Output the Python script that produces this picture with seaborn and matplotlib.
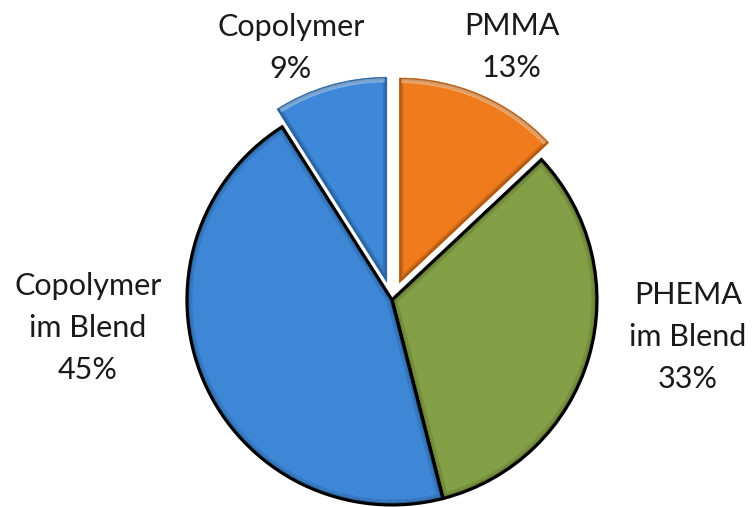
import matplotlib
matplotlib.use("Agg")
import matplotlib.pyplot as plt
from matplotlib.patches import Wedge, Arc
import seaborn as sns

# Share of each polymer fraction
categories = ["PMMA", "PHEMA\nim Blend", "Copolymer\nim Blend", "Copolymer"]
shares = [13, 33, 45, 9]
colors = ["#EF7B1C", "#83A047", "#3E87D6", "#3D88D9"]
explode = [0.09, 0.0, 0.0, 0.09]

sns.set_theme(style="white")
plt.rcParams["font.family"] = ["Lato", "DejaVu Sans"]

fig = plt.figure(figsize=(7.53, 5.07), dpi=100)
ax = fig.add_axes([0, 0, 1, 1])

wedges, _ = ax.pie(
    shares,
    colors=colors,
    explode=explode,
    startangle=90,
    counterclock=False,
    radius=1.0,
    center=(0, 0),
)

px = 1 / 205.0  # one pixel in data units


def inner_edge(w, color, lw, alpha):
    """Soft stroke along the wedge outline, kept inside the wedge."""
    b = Wedge(w.center, w.r, w.theta1, w.theta2,
              facecolor="none", edgecolor=color, linewidth=lw, alpha=alpha,
              zorder=w.get_zorder() + 0.1)
    ax.add_patch(b)
    b.set_clip_path(w)


def rim_light(w, alpha):
    """Light band just inside the outer arc of a wedge."""
    r = w.r - 3 * px
    a = Arc(w.center, 2 * r, 2 * r, theta1=w.theta1 + 0.6, theta2=w.theta2 - 0.6,
            color="white", linewidth=3, alpha=alpha, zorder=w.get_zorder() + 0.2)
    ax.add_patch(a)
    a.set_clip_path(w)


for w, ex, c in zip(wedges, explode, colors):
    if ex > 0:
        w.set_edgecolor(c)
        w.set_linewidth(0.5)
        inner_edge(w, "black", 6, 0.12)
        inner_edge(w, "black", 3, 0.18)
        rim_light(w, 0.35)
    else:
        w.set_edgecolor("black")
        w.set_linewidth(2.3)
        w.set_zorder(1.5)
        inner_edge(w, "black", 8, 0.10)
        inner_edge(w, "black", 4, 0.15)

# label anchors (data units, pie radius = 1)
label_pos = [(0.585, 1.234), (1.444, -0.180), (-1.483, -0.137), (-0.493, 1.229)]
for name, val, (lx, ly) in zip(categories, shares, label_pos):
    ax.text(lx, ly, f"{name}\n{val}%", ha="center", va="center",
            fontsize=22, color="#1a1a1a", linespacing=1.62)

ax.set_xlim(-1.912, 1.761)
ax.set_ylim(-1.010, 1.463)
ax.set_aspect("equal")
ax.axis("off")

fig.savefig("out.png", dpi=100, facecolor="white")
